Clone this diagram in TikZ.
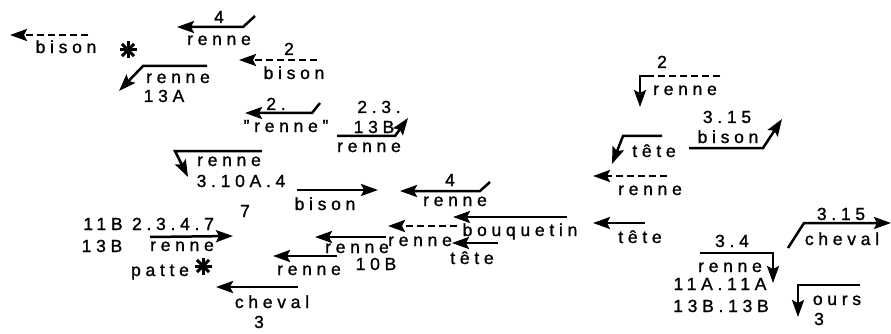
\documentclass[tikz,border=0pt]{standalone}
\usepackage{fontspec}
\setmainfont{Liberation Sans}[LetterSpace=27,FakeBold=1.2]
\usetikzlibrary{arrows.meta}
\begin{document}
\begin{tikzpicture}[x=1pt,y=-1pt,
  arr/.style={line width=2.5pt,-{Stealth[length=17pt,width=12pt,inset=3pt]}},
  ln/.style={line width=2.5pt},
  dsh/.style={arr,dash pattern=on 7pt off 4pt},
  lab/.style={anchor=base,inner sep=0pt,xshift=2pt,font=\fontsize{17.5}{17.5}\selectfont},
  star/.pic={\foreach \a in {0,45,90,135}{\draw[line width=3pt] (\a:8.5) -- (\a+180:8.5);}}]
\useasboundingbox (0,0) rectangle (891,334);
% ---------- top left
\coordinate (a1s) at (88,35); \coordinate (a1e) at (10,35);
\draw[dsh] (a1s) -- (a1e);
\node[lab] (t1) at (64,53) {bison};
\pic at (128,50) {star};
% 4 renne
\coordinate (a2s) at (255,16); \coordinate (a2m) at (243,27); \coordinate (a2e) at (177,27);
\draw[arr] (a2s) -- (a2m) -- (a2e);
\node[lab] (t2) at (217,23) {4};
\node[lab] (t3) at (217,45) {renne};
% renne 13A
\coordinate (a3s) at (207,66); \coordinate (a3m) at (143,66); \coordinate (a3e) at (119,91);
\draw[arr] (a3s) -- (a3m) -- (a3e);
\node[lab] (t4) at (176,83) {renne};
\node[lab] (t5) at (162,102) {13A};
% 2 bison
\coordinate (a4s) at (317,60); \coordinate (a4e) at (239,60);
\draw[dsh] (a4s) -- (a4e);
\node[lab] (t6) at (287,55) {2};
\node[lab] (t7) at (292,79) {bison};
% 2. "renne"
\coordinate (a5s) at (320,103); \coordinate (a5m) at (312,113); \coordinate (a5e) at (245,113);
\draw[arr] (a5s) -- (a5m) -- (a5e);
\node[lab] (t8) at (274,110) {2.};
\node[lab] (t9) at (284,132) {"renne"};
% 2.3. 13B renne
\coordinate (a6s) at (337,136); \coordinate (a6m) at (395,136); \coordinate (a6e) at (408,118);
\draw[arr] (a6s) -- (a6m) -- (a6e);
\node[lab] (t10) at (377,113) {2.3.};
\node[lab] (t11) at (372,133) {13B};
\node[lab] (t12) at (367,152) {renne};
% renne 3.10A.4
\coordinate (a7s) at (262,151); \coordinate (a7m) at (175,151); \coordinate (a7e) at (188,177);
\draw[arr] (a7s) -- (a7m) -- (a7e);
\node[lab] (t13) at (227,166) {renne};
\node[lab] (t14) at (239,187) {3.10A.4};
\node[lab] (t15) at (243,217) {7};
% bison ->
\coordinate (a8s) at (297,190); \coordinate (a8e) at (378,190);
\draw[arr] (a8s) -- (a8e);
\node[lab] (t16) at (323,210) {bison};
% 4 renne (middle)
\coordinate (a9s) at (490,182); \coordinate (a9m) at (480,191); \coordinate (a9e) at (400,191);
\draw[arr] (a9s) -- (a9m) -- (a9e);
\node[lab] (t17) at (448,186) {4};
\node[lab] (t18) at (453,206) {renne};
% bouquetin
\coordinate (a10s) at (567,217); \coordinate (a10e) at (453,217);
\draw[arr] (a10s) -- (a10e);
\node[lab] (t19) at (518,236) {bouquetin};
% dashed renne
\coordinate (a11s) at (457,226); \coordinate (a11e) at (388,226);
\draw[dsh] (a11s) -- (a11e);
\node[lab] (t20) at (418,246) {renne};
% tete
\coordinate (a12s) at (498,243); \coordinate (a12e) at (452,243);
\draw[arr] (a12s) -- (a12e);
\node[lab] (t21) at (470,264) {tête};
% renne 10B
\coordinate (a13s) at (386,237); \coordinate (a13e) at (315,237);
\draw[arr] (a13s) -- (a13e);
\node[lab] (t22) at (355,253) {renne};
\node[lab] (t23) at (374,270) {10B};
% renne left
\coordinate (a14s) at (337,256); \coordinate (a14e) at (273,256);
\draw[arr] (a14s) -- (a14e);
\node[lab] (t24) at (307,275) {renne};
% cheval 3
\coordinate (a15s) at (298,287); \coordinate (a15e) at (216,287);
\draw[arr] (a15s) -- (a15e);
\node[lab] (t25) at (270,308) {cheval};
\node[lab] (t26) at (257,328) {3};
% 11B 2.3.4.7 13B renne patte
\coordinate (a16s) at (150,237); \coordinate (a16e) at (233,236);
\draw[arr] (a16s) -- (a16e);
\node[lab] (t27) at (101,230) {11B};
\node[lab] (t28) at (171,230) {2.3.4.7};
\node[lab] (t29) at (100,252) {13B};
\node[lab] (t30) at (180,251) {renne};
\node[lab] (t31) at (158,276) {patte};
\pic at (203,266) {star};
% ---------- right side
% 2 renne dashed down
\coordinate (a17s) at (720,76); \coordinate (a17m) at (650,76); \coordinate (a17c) at (640,76); \coordinate (a17e) at (640,107);
\draw[ln,dash pattern=on 7pt off 4pt] (a17s) -- (a17m);
\draw[arr] (a17m) -- (a17c) -- (a17e);
\node[lab] (t32) at (660,68) {2};
\node[lab] (t33) at (683,95) {renne};
% tete bent
\coordinate (a18s) at (662,136); \coordinate (a18m) at (623,136); \coordinate (a18e) at (612,164);
\draw[arr] (a18s) -- (a18m) -- (a18e);
\node[lab] (t34) at (652,157) {tête};
% 3.15 bison
\coordinate (a19s) at (689,148); \coordinate (a19m) at (763,148); \coordinate (a19e) at (782,119);
\draw[arr] (a19s) -- (a19m) -- (a19e);
\node[lab] (t35) at (725,123) {3.15};
\node[lab] (t36) at (726,143) {bison};
% dashed renne right
\coordinate (a20s) at (667,176); \coordinate (a20e) at (593,176);
\draw[dsh] (a20s) -- (a20e);
\node[lab] (t37) at (648,195) {renne};
% tete right
\coordinate (a21s) at (645,223); \coordinate (a21e) at (593,223);
\draw[arr] (a21s) -- (a21e);
\node[lab] (t38) at (638,243) {tête};
% 3.15 cheval
\coordinate (a22s) at (788,248); \coordinate (a22m) at (804,223); \coordinate (a22e) at (891,223);
\draw[arr] (a22s) -- (a22m) -- (a22e);
\node[lab] (t39) at (839,220) {3.15};
\node[lab] (t40) at (840,245) {cheval};
% 3.4 renne 11A.11A 13B.13B
\coordinate (a23s) at (700,253); \coordinate (a23m) at (773,253); \coordinate (a23e) at (773,283);
\draw[arr] (a23s) -- (a23m) -- (a23e);
\node[lab] (t41) at (730,247) {3.4};
\node[lab] (t42) at (728,272) {renne};
\node[lab] (t43) at (718,290) {11A.11A};
\node[lab] (t44) at (719,312) {13B.13B};
% ours 3
\coordinate (a24s) at (860,285); \coordinate (a24m) at (798,285); \coordinate (a24e) at (798,317);
\draw[arr] (a24s) -- (a24m) -- (a24e);
\node[lab] (t45) at (835,305) {ours};
\node[lab] (t46) at (817,325) {3};
\end{tikzpicture}
\end{document}
